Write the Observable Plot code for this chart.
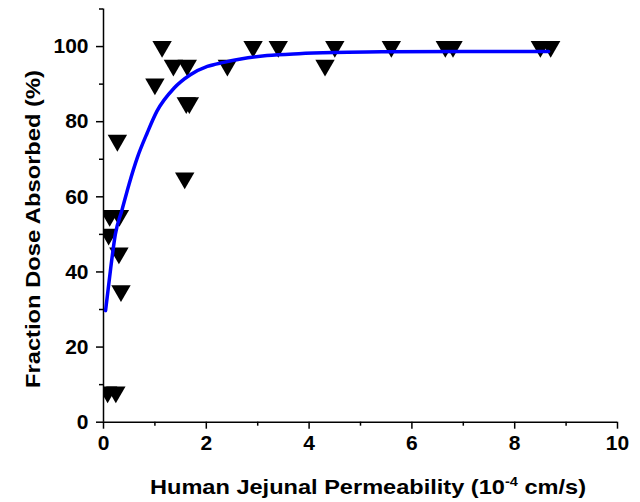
<!DOCTYPE html>
<html>
<head>
<meta charset="utf-8">
<script src="https://cdn.jsdelivr.net/npm/d3@7"></script>
<script src="https://cdn.jsdelivr.net/npm/@observablehq/plot@0.6"></script>
<style>
  html, body { margin: 0; padding: 0; background: #fff; }
  #chart svg { display: block; }
</style>
</head>
<body>
<div id="chart"></div>
<script>
// Observed points: human jejunal permeability (1e-4 cm/s) vs fraction dose absorbed (%)
const permeability = [1.14, 1.36, 1.63, 1.00, 1.61, 1.67, 0.27, 1.58, 0.12, 0.31, 0.10, 0.30, 0.34, 0.08, 0.24,
                      2.41, 2.91, 3.40, 4.31, 4.50, 5.60, 6.65, 6.80, 8.50, 8.70];
const absorbed     = [100, 95, 95, 90, 85, 85, 75, 65, 55, 55, 50, 45, 35, 8, 8,
                      95, 100, 100, 95, 100, 100, 100, 100, 100, 100];

// Fitted curve
const fitX = [0.04, 0.14, 0.23, 0.36, 0.50, 0.66, 0.85, 1.04, 1.37, 1.69, 2.02, 2.34, 2.67, 3.18, 3.80, 4.48, 5.50, 7.00, 8.66];
const fitY = [29.7, 41.0, 50.0, 56.5, 63.5, 70.5, 77.0, 82.8, 88.9, 92.5, 94.7, 95.8, 96.7, 97.6, 98.1, 98.4, 98.6, 98.7, 98.7];

// Axis ticks
const xMajor = [0, 2, 4, 6, 8, 10];
const xMinor = [1, 3, 5, 7, 9];
const yMajor = [0, 20, 40, 60, 80, 100];
const yMinor = [10, 30, 50, 70, 90, 110];

const points = permeability.map((p, i) => ({x: p, y: absorbed[i]}));
const fit = fitX.map((p, i) => ({x: p, y: fitY[i]}));

const downTriangle = {
  draw(context, size) {
    const h = Math.sqrt(size / (3 * Math.sqrt(3)));
    const w = Math.sqrt(3) * h;
    context.moveTo(0, 2 * h);
    context.lineTo(-w, -h);
    context.lineTo(w, -h);
    context.closePath();
  }
};

const font = "'Liberation Sans', Arial, Helvetica, sans-serif";

const chart = Plot.plot({
  width: 640,
  height: 502,
  marginLeft: 103,
  marginRight: 23,
  marginTop: 8.5,
  marginBottom: 80.3,
  x: {domain: [0, 10]},
  y: {domain: [0, 110]},
  style: {fontFamily: font, fontSize: "21px", fontWeight: "bold", color: "#000", background: "#fff"},
  marks: [
    Plot.axisY(yMajor, {tickSize: 7, tickPadding: 8, strokeWidth: 1.5, label: null, fontSize: 21, fontWeight: "bold"}),
    Plot.axisY(yMinor, {tickSize: 4, strokeWidth: 1.5, text: null, label: null}),
    Plot.axisX(xMajor, {tickSize: 7, tickPadding: 6, strokeWidth: 1.5, label: null, fontSize: 21, fontWeight: "bold"}),
    Plot.axisX(xMinor, {tickSize: 4, strokeWidth: 1.5, text: null, label: null}),
    Plot.ruleX([0], {y1: 0, y2: 110, stroke: "#000", strokeWidth: 1.5}),
    Plot.ruleY([0], {x1: 0, x2: 10, stroke: "#000", strokeWidth: 1.5}),
    Plot.dot(points, {x: "x", y: "y", symbol: downTriangle, r: 7.2, fill: "#000", stroke: "none", clip: true}),
    Plot.line(fit, {x: "x", y: "y", stroke: "#0000ff", strokeWidth: 3.5, curve: "monotone-x"})
  ]
});

document.getElementById("chart").appendChild(chart);

const svg = d3.select(chart);
// x-axis title with superscript
const xt = svg.append("text")
  .attr("x", 368).attr("y", 494)
  .attr("text-anchor", "middle")
  .attr("textLength", 436).attr("lengthAdjust", "spacingAndGlyphs")
  .attr("font-family", font).attr("font-weight", "bold").attr("font-size", 21)
  .attr("fill", "#000");
xt.append("tspan").text("Human Jejunal Permeability (10");
xt.append("tspan").attr("dy", -8).attr("font-size", 13).text("-4");
xt.append("tspan").attr("dy", 8).text(" cm/s)");

// y-axis title
svg.append("text")
  .attr("transform", "translate(40,229) rotate(-90)")
  .attr("text-anchor", "middle")
  .attr("textLength", 318).attr("lengthAdjust", "spacingAndGlyphs")
  .attr("font-family", font).attr("font-weight", "bold").attr("font-size", 21)
  .attr("fill", "#000")
  .text("Fraction Dose Absorbed (%)");
</script>
</body>
</html>
